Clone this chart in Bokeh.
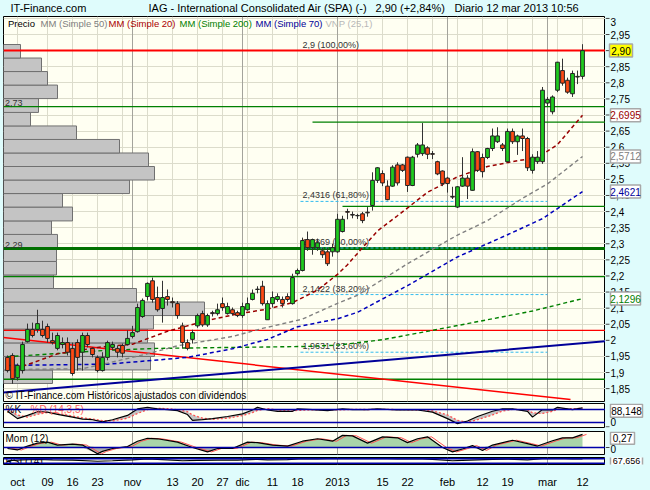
from bokeh.plotting import figure
from bokeh.models import (Range1d, LinearAxis, FixedTicker, ColumnDataSource, Grid, Span)
from bokeh.layouts import column, row
from bokeh.embed import file_html
from bokeh.resources import INLINE
from bokeh.core.properties import value

FONT = "Liberation Sans"
OUT_BG = "#dffcfc"
IN_BG = "#fffff2"
GRID = "#dcdccb"
MONTH = "#a4a49c"

# ---------------- data ----------------
opens = [1.947, 1.953, 1.884, 1.906, 1.996, 2.034, 2.034, 2.034, 2.043, 1.999,
         1.975, 1.987, 1.993, 1.975, 1.993, 1.963, 2.015, 1.975, 1.947, 1.906,
         1.947, 1.978, 1.975, 1.984, 1.987, 2.012, 2.027, 2.074, 2.136, 2.185,
         2.133, 2.099, 2.136, 2.120, 2.114, 2.045, 1.993, 2.003, 2.045, 2.083,
         2.048, 2.086, 2.083, 2.114, 2.083, 2.095, 2.086, 2.077, 2.095, 2.127,
         2.158, 2.168, 2.064, 2.114, 2.127, 2.127, 2.136, 2.114, 2.207, 2.217,
         2.313, 2.288, 2.288, 2.278, 2.275, 2.275, 2.275, 2.338, 2.400, 2.391,
         2.387, 2.393, 2.398, 2.419, 2.497, 2.518, 2.479, 2.479, 2.545, 2.545,
         2.569, 2.481, 2.578, 2.580, 2.598, 2.580, 2.555, 2.526, 2.504, 2.447,
         2.414, 2.479, 2.504, 2.466, 2.586, 2.568, 2.568, 2.596, 2.617, 2.607,
         2.555, 2.649, 2.617, 2.635, 2.627, 2.528, 2.555, 2.555, 2.737, 2.710,
         2.777, 2.838, 2.808, 2.766, 2.818, 2.820]
highs = [1.953, 1.960, 1.928, 1.996, 2.052, 2.055, 2.095, 2.061, 2.052, 2.024,
         2.024, 2.009, 2.009, 1.993, 2.003, 2.024, 2.024, 1.978, 1.953, 1.963,
         1.999, 1.996, 1.984, 1.990, 2.031, 2.045, 2.114, 2.130, 2.180, 2.195,
         2.167, 2.185, 2.158, 2.133, 2.122, 2.055, 2.003, 2.033, 2.083, 2.092,
         2.083, 2.092, 2.114, 2.133, 2.117, 2.102, 2.092, 2.117, 2.133, 2.158,
         2.168, 2.185, 2.124, 2.152, 2.146, 2.136, 2.146, 2.207, 2.223, 2.319,
         2.338, 2.316, 2.316, 2.288, 2.288, 2.300, 2.393, 2.387, 2.409, 2.400,
         2.393, 2.399, 2.414, 2.522, 2.538, 2.528, 2.497, 2.544, 2.553, 2.548,
         2.571, 2.573, 2.613, 2.675, 2.603, 2.588, 2.558, 2.528, 2.508, 2.477,
         2.479, 2.569, 2.513, 2.596, 2.588, 2.580, 2.598, 2.658, 2.662, 2.613,
         2.658, 2.658, 2.639, 2.658, 2.632, 2.578, 2.588, 2.787, 2.756, 2.761,
         2.865, 2.875, 2.816, 2.838, 2.838, 2.920]
lows = [1.900, 1.865, 1.875, 1.897, 1.993, 2.009, 2.024, 2.009, 1.993, 1.987,
        1.969, 1.975, 1.953, 1.890, 1.906, 1.906, 1.978, 1.947, 1.900, 1.903,
        1.938, 1.969, 1.947, 1.947, 1.984, 2.006, 2.024, 2.070, 2.124, 2.117,
        2.089, 2.055, 2.108, 2.102, 2.067, 1.975, 1.969, 1.990, 2.039, 2.042,
        2.042, 2.074, 2.077, 2.092, 2.080, 2.077, 2.072, 2.070, 2.092, 2.124,
        2.146, 2.108, 2.064, 2.102, 2.120, 2.102, 2.120, 2.111, 2.201, 2.214,
        2.278, 2.266, 2.278, 2.256, 2.231, 2.260, 2.272, 2.335, 2.376, 2.379,
        2.377, 2.364, 2.384, 2.403, 2.489, 2.479, 2.435, 2.477, 2.481, 2.523,
        2.461, 2.479, 2.568, 2.573, 2.563, 2.563, 2.513, 2.479, 2.459, 2.439,
        2.411, 2.477, 2.439, 2.465, 2.523, 2.506, 2.563, 2.588, 2.613, 2.588,
        2.553, 2.610, 2.576, 2.588, 2.526, 2.518, 2.548, 2.548, 2.727, 2.702,
        2.771, 2.791, 2.766, 2.756, 2.796, 2.811]
closes = [1.906, 1.881, 1.922, 1.987, 2.034, 2.015, 2.052, 2.015, 2.006, 1.993,
          2.015, 1.993, 1.963, 1.897, 1.947, 2.015, 1.987, 1.956, 1.906, 1.947,
          1.993, 1.987, 1.963, 1.960, 2.006, 2.024, 2.102, 2.124, 2.177, 2.127,
          2.095, 2.133, 2.127, 2.117, 2.077, 1.993, 1.975, 2.024, 2.077, 2.048,
          2.077, 2.083, 2.095, 2.102, 2.105, 2.083, 2.077, 2.105, 2.114, 2.146,
          2.159, 2.114, 2.114, 2.133, 2.136, 2.114, 2.127, 2.195, 2.217, 2.310,
          2.288, 2.313, 2.303, 2.266, 2.238, 2.288, 2.376, 2.376, 2.398, 2.389,
          2.388, 2.372, 2.396, 2.497, 2.536, 2.489, 2.437, 2.538, 2.489, 2.528,
          2.481, 2.569, 2.607, 2.607, 2.578, 2.578, 2.517, 2.487, 2.487, 2.445,
          2.477, 2.504, 2.479, 2.586, 2.528, 2.524, 2.596, 2.635, 2.635, 2.596,
          2.649, 2.617, 2.635, 2.627, 2.536, 2.569, 2.569, 2.777, 2.748, 2.756,
          2.864, 2.799, 2.771, 2.829, 2.820, 2.900]

ma20_x = [3, 10, 18, 25, 32, 40, 46, 52, 57, 62, 66, 68, 70, 74, 78, 84, 90, 96, 102, 106, 110, 115]
ma20_y = [1.919, 1.958, 1.978, 1.988, 2.028, 2.062, 2.082, 2.097, 2.117, 2.156, 2.205, 2.235,
          2.27, 2.34, 2.387, 2.46, 2.508, 2.54, 2.558, 2.568, 2.608, 2.6995]
ma50_x = [0, 15, 20, 28, 34, 45, 51, 59, 66, 70, 80, 90, 96, 103, 108, 115]
ma50_y = [1.909, 1.912, 1.929, 1.958, 1.983, 2.012, 2.037, 2.066, 2.115, 2.14, 2.238, 2.327,
          2.372, 2.441, 2.486, 2.5712]
ma200_x = [0, 10, 20, 30, 45, 60, 66, 75, 85, 95, 105, 115]
ma200_y = [1.949, 1.959, 1.969, 1.975, 1.978, 1.981, 1.985, 2.002, 2.031, 2.061, 2.091, 2.1296]
ma70_x = [0, 20, 30, 36, 45, 52, 58, 66, 70, 80, 90, 100, 107, 115]
ma70_y = [1.922, 1.926, 1.939, 1.947, 1.974, 2.003, 2.042, 2.067, 2.087, 2.17, 2.259, 2.328,
          2.378, 2.4621]

# horizontal support / resistance lines
hl_levels = [2.90, 2.726, 2.678, 2.416, 2.285, 2.198, 2.031, 1.879]
hl_start = [-0.8, -0.8, 61, 67, -0.8, -0.8, -0.8, -0.8]
hl_colors = ["#ff0000", "#008000", "#008000", "#008000", "#007000", "#008000", "#ff0000", "#008000"]
hl_widths = [2, 1.4, 1.4, 1.4, 3, 1.4, 1.4, 1.4]

# trend lines
red_trend_x = [-0.8, 112.6]
red_trend_y = [2.009, 1.816]
blue_trend_x = [-0.8, 119.6]
blue_trend_y = [1.838, 1.997]

# fibonacci retracement
fib_levels = [2.9, 2.4316, 2.2869, 2.1422, 1.9631]
fib_labels = ["2,9 (100,00%)", "2,4316 (61,80%)", "2,2869 (50,00%)", "2,1422 (38,20%)", "1,9631 (23,60%)"]

# volume-at-price profile (25 bins)
vnp_edges = [1.866, 1.908, 1.950, 1.992, 2.035, 2.077, 2.119, 2.161, 2.203, 2.245, 2.287,
             2.329, 2.371, 2.414, 2.456, 2.498, 2.540, 2.582, 2.624, 2.666, 2.708, 2.751,
             2.793, 2.835, 2.877, 2.919]
vnp_volume = [49, 147, 151, 144, 150, 201, 133, 50, 53, 53, 54, 48, 69, 59, 126, 151, 145,
              116, 73, 27, 35, 54, 44, 38, 17]

# last values shown on the price scale
last_values = [2.90, 2.6995, 2.5712, 2.4621, 2.1296]
last_texts = ["2,90", "2,6995", "2,5712", "2,4621", "2,1296"]
last_colors = ["#000000", "#990000", "#808080", "#000099", "#008000"]
last_bg = ["#ffff00", "#ffffff", "#ffffff", "#ffffff", "#ffffff"]

price_ticks = [1.85, 1.9, 1.95, 2.0, 2.05, 2.1, 2.15, 2.2, 2.25, 2.3, 2.35, 2.4, 2.45, 2.5,
               2.55, 2.6, 2.65, 2.7, 2.75, 2.8, 2.85, 2.9, 2.95]
price_tick_labels = ["1,85", "1,9", "1,95", "2", "2,05", "2,1", "2,15", "2,2", "2,25", "2,3",
                     "2,35", "2,4", "2,45", "2,5", "2,55", "2,6", "2,65", "2,7", "2,75", "2,8",
                     "2,85", "2,9", "2,95"]
top_tick = [3.0]
top_tick_label = ["3"]
date_ticks = [2, 8, 13, 18, 25, 33, 38, 43, 47, 53, 58, 66, 75, 80, 88, 95, 100, 108, 115]
date_labels = ["oct", "09", "16", "23", "nov", "13", "20", "27", "dic", "11", "18", "2013",
               "15", "22", "feb", "12", "19", "mar", "12"]
week_grid = [2, 8, 13, 18, 23, 28, 33, 38, 43, 48, 53, 58, 70, 75, 80, 85, 90, 95, 100, 105, 110, 115]
month_grid = [25, 47, 66, 88, 108]

# stochastic %K %D (14,3,5)
stoch_x = [0, 2, 4, 6, 8, 10, 13, 15, 17, 19, 21, 24, 26, 28, 30, 32, 34, 36, 37, 39, 41, 44,
           47, 49, 50, 52, 54, 57, 58, 61, 64, 67, 69, 72, 74, 78, 82, 85, 88, 90, 92, 94,
           97, 99, 101, 104, 105, 107, 109, 110, 113, 115]
stoch_k = [72, 38, 53, 70, 68, 58, 45, 36, 33, 23, 33, 53, 83, 90, 83, 80, 75, 57, 30, 33, 38,
           48, 60, 78, 90, 78, 72, 72, 83, 80, 75, 83, 80, 80, 83, 78, 78, 68, 38, 15, 27, 48,
           72, 83, 83, 72, 45, 80, 78, 90, 80, 88.148]
stoch_d = [80, 55, 45, 58, 66, 63, 50, 42, 36, 29, 27, 40, 62, 80, 86, 84, 79, 70, 55, 40, 35,
           40, 52, 66, 76, 84, 78, 73, 76, 79, 78, 79, 81, 80, 81, 80, 78, 74, 55, 30, 22, 33,
           55, 73, 81, 79, 65, 62, 72, 82, 84, 86]

# momentum (12)
mom_x = [0, 2, 4, 6, 8, 10, 13, 15, 18, 19, 21, 24, 26, 28, 30, 34, 37, 40, 42, 45, 48, 50,
         53, 56, 59, 62, 65, 67, 69, 72, 75, 78, 80, 82, 84, 87, 89, 91, 93, 95, 97, 101,
         104, 106, 109, 111, 113, 115]
mom_v = [-0.02, -0.05, 0.03, 0.09, 0.11, 0.05, 0.07, 0.05, -0.13, -0.08, -0.02, 0.02, 0.13,
         0.19, 0.18, 0.11, 0.0, -0.09, -0.02, -0.02, 0.11, 0.10, 0.05, 0.03, 0.13, 0.18, 0.13,
         0.25, 0.24, 0.09, 0.22, 0.2, 0.10, 0.18, 0.22, 0.0, -0.09, -0.03, 0.04, -0.06, 0.05,
         0.15, 0.08, 0.03, 0.14, 0.2, 0.2, 0.27]

# RSI (14)
rsi_x = [0, 3, 6, 9, 13, 18, 21, 25, 28, 31, 35, 38, 42, 46, 50, 52, 56, 59, 62, 66, 70, 74,
         78, 82, 85, 89, 91, 94, 97, 100, 104, 107, 110, 113, 115]
rsi_v = [52, 60, 63, 60, 57, 48, 52, 60, 68, 62, 52, 56, 58, 58, 64, 60, 62, 70, 68, 72, 70,
         72, 68, 70, 64, 52, 56, 60, 64, 66, 60, 70, 72, 68, 67.656]

# ---------------- helpers ----------------
X0, X1 = -0.8, 119.6
PANEL_W, SIDE_W = 605, 45


def panel(height, yr, bottom):
    p = figure(width=PANEL_W, height=height, x_range=Range1d(X0, X1), y_range=yr,
               toolbar_location=None, output_backend="svg", title=None,
               x_axis_location=None, y_axis_location=None,
               min_border_left=3, min_border_right=0, min_border_top=0,
               min_border_bottom=bottom, background_fill_color=IN_BG,
               border_fill_color=OUT_BG, outline_line_color="black", outline_line_width=1)
    p.grid.visible = False
    return p


def side(height, yr, bottom):
    # side strip sharing the panel's vertical scale (frames are aligned in a row)
    s = figure(width=SIDE_W, height=height, x_range=Range1d(0, SIDE_W), y_range=yr,
               toolbar_location=None, output_backend="svg", title=None,
               x_axis_location=None, y_axis_location=None, min_border_left=0,
               min_border_right=0, min_border_top=0, min_border_bottom=bottom,
               background_fill_color=OUT_BG, border_fill_color=OUT_BG, outline_line_color=None)
    s.grid.visible = False
    return s


def ticks_on(s, ticks, labels, y_off=0):
    s.segment(x0=[0] * len(ticks), x1=[4] * len(ticks), y0=ticks, y1=ticks,
              line_color="#444444", line_width=1)
    s.text(x=[5] * len(ticks), y=ticks, text=labels, text_font=value(FONT),
           text_font_size="10px", text_color="#000000", text_baseline="middle", y_offset=y_off)


def boxes(s, ys, texts, colors, bgs, widths, centers, h=13, fs="10px"):
    s.rect(x=centers, y=ys, width=widths, height=[h] * len(ys), width_units="screen",
           height_units="screen", fill_color=bgs, line_color="#a8a8a8", line_width=1.5)
    s.text(x=centers, y=ys, text=texts, text_color=colors, text_font=value(FONT),
           text_font_size=fs, text_align="center", text_baseline="middle")


# ---------------- title row ----------------
pt = figure(width=650, height=16, x_range=Range1d(0, 650), y_range=Range1d(0, 16),
            toolbar_location=None, output_backend="svg", title=None,
            x_axis_location=None, y_axis_location=None, min_border=0,
            background_fill_color=OUT_BG, border_fill_color=OUT_BG, outline_line_color=None)
pt.grid.visible = False
pt.text(x=[10, 148, 375, 454], y=[8.5] * 4,
        text=["IT-Finance.com", "IAG - International Consolidated Air (SPA) (-)",
              "2,90 (+2,84%)", "Diario  12 mar 2013 10:56"],
        text_font=value(FONT), text_font_size="11px", text_color="#000000",
        text_baseline="middle")

# ---------------- main price panel ----------------
yr_main = Range1d(1.810, 3.006)
pm = panel(387, yr_main, 2)
pm.add_layout(Grid(dimension=1, ticker=FixedTicker(ticks=price_ticks + top_tick), grid_line_color=GRID))
pm.add_layout(Grid(dimension=0, ticker=FixedTicker(ticks=week_grid), grid_line_color=GRID))
pm.add_layout(Grid(dimension=0, ticker=FixedTicker(ticks=month_grid), grid_line_color=MONTH))

vsrc = ColumnDataSource(dict(bottom=vnp_edges[:-1], top=vnp_edges[1:],
                             right=[X0 + v * 0.2 for v in vnp_volume]))
pm.quad(left=X0, right="right", bottom="bottom", top="top", source=vsrc,
        fill_color="#c4c4c4", line_color="#707070", line_width=1)

for lv, st, col, w in zip(hl_levels, hl_start, hl_colors, hl_widths):
    pm.line([st, X1], [lv, lv], line_color=col, line_width=w)

for lv in fib_levels[1:]:
    pm.line([58.6, 108], [lv, lv], line_color="#33bbee", line_dash="3 2", line_width=1)
pm.text(x=[59] * len(fib_levels), y=fib_levels, text=fib_labels, text_font=value(FONT),
        text_font_size="9px", text_color="#333333", text_baseline="bottom", y_offset=-1)

pm.line(red_trend_x, red_trend_y, line_color="#ff0000", line_width=1.5)
pm.line(blue_trend_x, blue_trend_y, line_color="#000099", line_width=2)

pm.line(ma200_x, ma200_y, line_color="#008000", line_dash="4 3", line_width=1.4)
pm.line(ma70_x, ma70_y, line_color="#0000bb", line_dash="4 3", line_width=1.5)
pm.line(ma50_x, ma50_y, line_color="#808080", line_dash="4 3", line_width=1.4)
pm.line(ma20_x, ma20_y, line_color="#990000", line_dash="4 3", line_width=1.5)

xs = list(range(len(closes)))
csrc = ColumnDataSource(dict(
    x=xs, o=opens, h=highs, l=lows, c=closes,
    top=[max(a, b) for a, b in zip(opens, closes)],
    bot=[min(a, b) for a, b in zip(opens, closes)],
    col=["#1fcc1f" if c >= o else "#ff4a14" for o, c in zip(opens, closes)]))
pm.segment(x0="x", y0="h", x1="x", y1="l", source=csrc, line_color="#333333", line_width=1)
pm.vbar(x="x", width=0.75, top="top", bottom="bot", source=csrc, fill_color="col",
        line_color="#222222", line_width=1)

pm.text(x=[-0.5, -0.5], y=[2.726, 2.285], text=["2,73", "2,29"], text_font=value(FONT),
        text_font_size="9px", text_color="#333333", text_baseline="bottom", y_offset=-1)

leg_x = [0.1, 6.6, 20.2, 34.4, 49.6, 63.6]
leg_t = ["Precio", "MM (Simple 50)", "MM (Simple 20)", "MM (Simple 200)", "MM (Simple 70)",
         "VNP (25,1)"]
leg_c = ["#000000", "#808080", "#aa0000", "#008000", "#000099", "#b8b8b8"]
pm.text(x=leg_x, y=[2.984] * 6, text=leg_t, text_color=leg_c, text_font=value(FONT),
        text_font_size="9.5px", text_baseline="middle")

pm.text(x=[-0.4], y=[1.829], text=["© IT-Finance.com  Históricos ajustados con dividendos"],
        text_font=value(FONT), text_font_size="10px", text_color="#000000",
        text_baseline="middle")

sm = side(387, yr_main, 2)
ticks_on(sm, price_ticks, price_tick_labels)
ticks_on(sm, top_tick, top_tick_label, y_off=4)
boxes(sm, last_values, last_texts, last_colors, last_bg,
      [23, 30, 30, 30, 30], [15.5, 20, 20, 20, 20])

# ---------------- stochastic ----------------
yr_st = Range1d(-3, 108)
ps = panel(28, yr_st, 4)
ps.add_layout(Grid(dimension=0, ticker=FixedTicker(ticks=month_grid), grid_line_color=MONTH))
ps.varea(x=stoch_x, y1=stoch_k, y2=stoch_d, fill_color="#b8b8b8", fill_alpha=0.8)
for lv in [20, 80]:
    ps.add_layout(Span(location=lv, dimension="width", line_color="#0000aa", line_width=1.5))
ps.line(stoch_x, stoch_d, line_color="#ff5050", line_dash="2 2", line_width=1.3)
ps.line(stoch_x, stoch_k, line_color="#000000", line_width=1.2)
ps.text(x=[-0.4, 4.6], y=[107, 107], text=["%K", "%D (14,3,5)"],
        text_color=["#000000", "#ff6060"], text_font=value(FONT), text_font_size="10px",
        text_baseline="top")
ss = side(28, yr_st, 4)
ticks_on(ss, [0], ["0"], y_off=-5)
boxes(ss, [74], ["88,148"], ["#000000"], ["#ffffff"], [32], [21])

# ---------------- momentum ----------------
yr_mo = Range1d(-0.144, 0.33)
pmo = panel(26, yr_mo, 3)
pmo.add_layout(Grid(dimension=0, ticker=FixedTicker(ticks=month_grid), grid_line_color=MONTH))
pmo.varea(x=mom_x, y1=[0] * len(mom_v), y2=[max(v, 0) for v in mom_v], fill_color="#a9d5a9")
pmo.varea(x=mom_x, y1=[0] * len(mom_v), y2=[min(v, 0) for v in mom_v], fill_color="#b0b0b0")
pmo.add_layout(Span(location=0, dimension="width", line_color="#0000aa", line_width=1.5))
pmo.line([x + 0.8 for x in mom_x], mom_v, line_color="#ff5050", line_width=1)
pmo.line(mom_x, mom_v, line_color="#000000", line_width=1.2)
pmo.text(x=[-0.4], y=[0.33], text=["Mom (12)"], text_font=value(FONT), text_font_size="10px",
         text_baseline="top", y_offset=1)
smo = side(26, yr_mo, 3)
ticks_on(smo, [0], ["0"], y_off=1)
boxes(smo, [0.19], ["0,27"], ["#000000"], ["#ffffff"], [24], [17], h=12)

# ---------------- RSI ----------------
yr_rsi = Range1d(20, 80)
pr = panel(33, yr_rsi, 21)
pr.add_layout(Grid(dimension=0, ticker=FixedTicker(ticks=month_grid), grid_line_color=MONTH))
for lv in [30, 70]:
    pr.add_layout(Span(location=lv, dimension="width", line_color="#0000aa", line_width=1.5))
pr.line(rsi_x, rsi_v, line_color="#000000", line_width=1.2)
pr.text(x=[-0.4], y=[50], text=["RSI (14)"], text_font=value(FONT), text_font_size="10px",
        text_baseline="middle")
xax = LinearAxis(ticker=FixedTicker(ticks=date_ticks),
                 major_label_overrides={t: l for t, l in zip(date_ticks, date_labels)},
                 axis_line_color=None, major_tick_line_color=None, minor_tick_line_color=None,
                 major_label_standoff=5, major_label_text_font=FONT,
                 major_label_text_font_size="11px", major_label_text_color="black")
pr.add_layout(xax, "below")
sr = side(33, yr_rsi, 21)
boxes(sr, [50], ["67,656"], ["#000000"], ["#ffffff"], [32], [21], h=11, fs="9px")

layout = column(pt, row(pm, sm, spacing=0), row(ps, ss, spacing=0),
                row(pmo, smo, spacing=0), row(pr, sr, spacing=0),
                spacing=0, background=OUT_BG)
open("out.html", "w").write(file_html(layout, INLINE))
